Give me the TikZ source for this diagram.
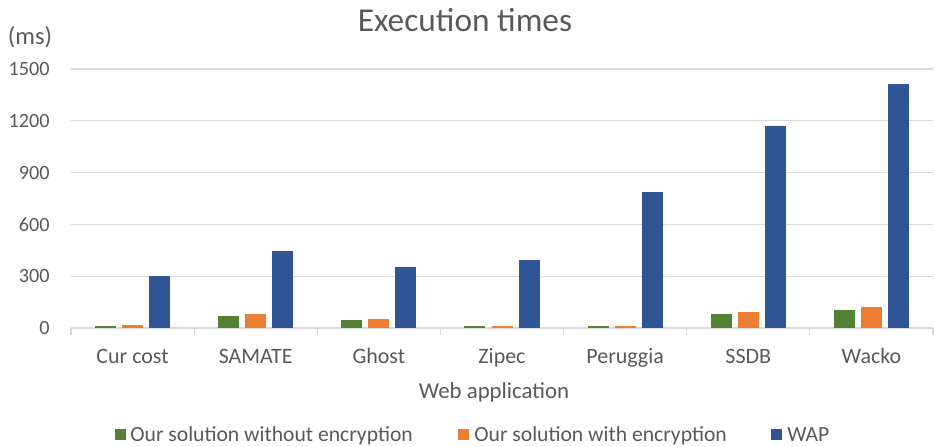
\documentclass[tikz,border=0pt]{standalone}
\usepackage{fontspec}
\setmainfont{Carlito}
\usepackage{xcolor}
\usetikzlibrary{positioning}
\definecolor{sinc}{HTML}{548235}
\definecolor{conc}{HTML}{ED7D31}
\definecolor{wap}{HTML}{2F5597}
\definecolor{rejilla}{HTML}{D9D9D9}
\definecolor{gristexto}{HTML}{595959}
\tikzset{
  lbl/.style={text=gristexto, inner sep=0pt, font=\fontsize{11.5}{14}\selectfont},
  cat/.style={lbl, anchor=base, font=\fontsize{12.5}{15}\selectfont},
  ttl/.style={lbl, anchor=base, font=\fontsize{19}{23}\selectfont},
  grd/.style={draw=rejilla, line width=0.7pt},
  leg/.style={lbl, anchor=base west, font=\fontsize{12.3}{15}\selectfont},
}
\begin{document}
\begin{tikzpicture}[x=0.02cm, y=-0.02cm]
  \useasboundingbox (0,0) rectangle (935,446);
  \node[ttl] (title) at (465,32) {Execution times};
  \node[lbl, anchor=base, font=\fontsize{14}{17}\selectfont] (unit) at (30,45) {(ms)};
  \foreach \v in {0,300,...,1500} {
    \draw[grd] (71,{328-\v*0.1727}) -- (933,{328-\v*0.1727});
    \node[lbl, anchor=east] (t\v) at (50,{328-\v*0.1727}) {\v};
  }
  \foreach \i in {0,...,7} \draw[grd] ({71+123.14*\i},328) -- ++(0,7);
  \foreach \i/\a/\b/\c in {0/12/20/300, 1/71/81/445, 2/46/55/351, 3/12/12/394, 4/12/12/789, 5/81/91/1170, 6/106/123/1413} {
    \fill[sinc] ({71+123.14*(\i+0.5)-37.5},328) rectangle ++(21,{-\a*0.1727});
    \fill[conc] ({71+123.14*(\i+0.5)-10.5},328) rectangle ++(21,{-\b*0.1727});
    \fill[wap] ({71+123.14*(\i+0.5)+16.5},328) rectangle ++(21,{-\c*0.1727});
  }
  \foreach \n [count=\i from 0] in {Cur cost, SAMATE, Ghost, Zipec, Peruggia, SSDB, Wacko}
    \node[cat] (c\i) at ({71+123.14*(\i+0.5)},363) {\n};
  \node[cat, font=\fontsize{13}{16}\selectfont] (xlab) at (494,398) {Web application};
  % legend
  \fill[sinc] (115,429) rectangle (126,440);
  \node[leg] (l1) at (130,441) {Our solution without encryption};
  \fill[conc] (458,429) rectangle (469,440);
  \node[leg] (l2) at (474,441) {Our solution with encryption};
  \fill[wap] (771,429) rectangle (782,440);
  \node[leg] (l3) at (787,441) {WAP};
\end{tikzpicture}
\end{document}
